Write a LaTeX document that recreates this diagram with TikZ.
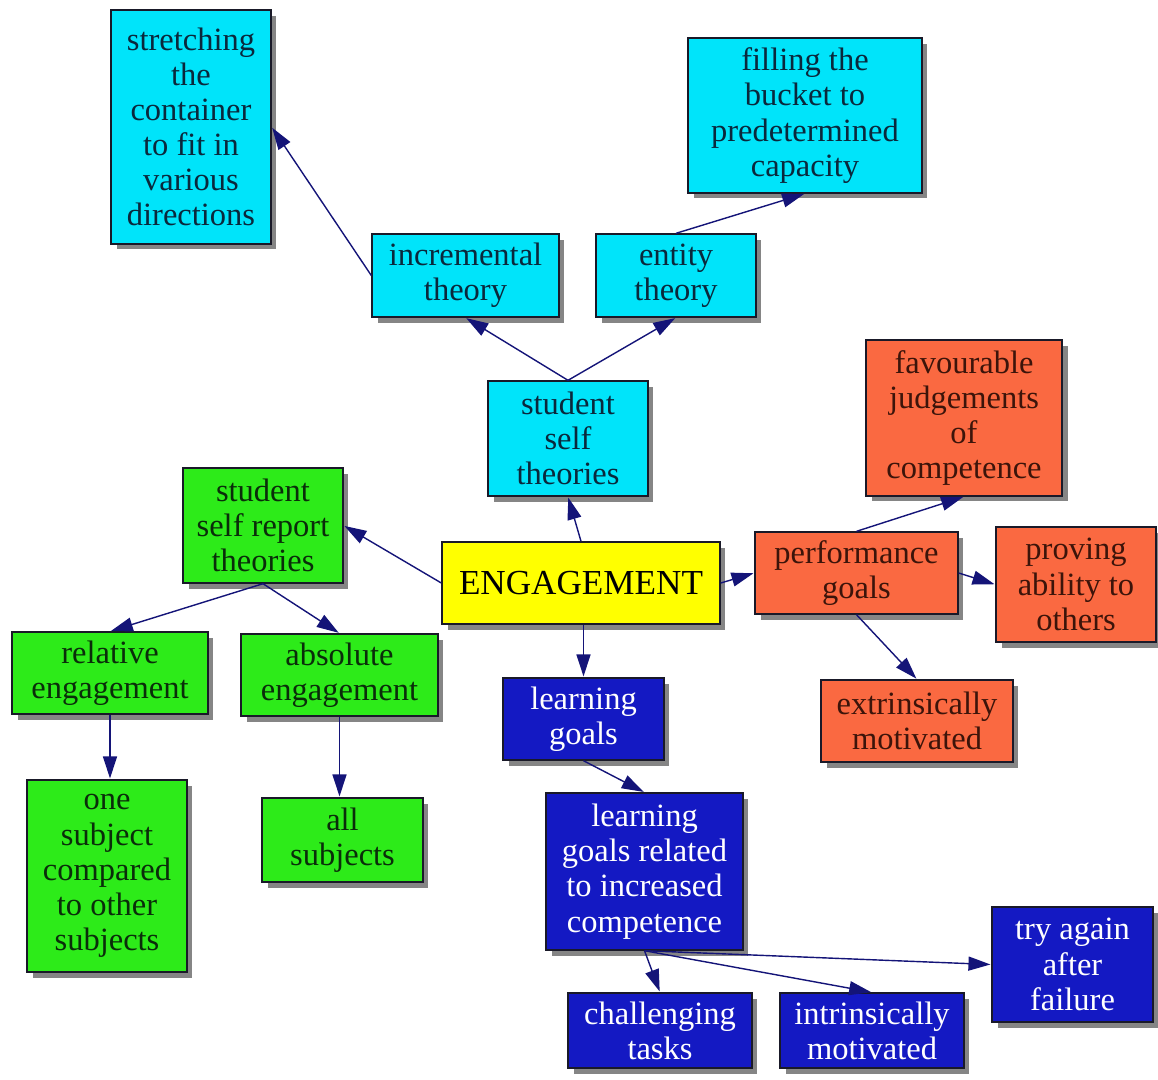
\documentclass[tikz,border=0pt]{standalone}
\usepackage{fontspec}
\setmainfont{Liberation Serif}
\usetikzlibrary{arrows.meta,shadows}

\definecolor{cyanfill}{RGB}{0,228,250}
\definecolor{cyantext}{RGB}{10,40,60}
\definecolor{yellowfill}{RGB}{255,255,0}
\definecolor{greenfill}{RGB}{45,235,25}
\definecolor{greentext}{RGB}{10,45,10}
\definecolor{orangefill}{RGB}{250,105,65}
\definecolor{orangetext}{RGB}{60,20,10}
\definecolor{bluefill}{RGB}{20,25,195}
\definecolor{navyline}{RGB}{20,20,120}
\definecolor{edgeline}{RGB}{25,25,40}

\tikzset{
  conceptbox/.style={draw=edgeline,line width=0.8pt,inner sep=0pt,align=center,
    font=\fontsize{18.5}{20}\selectfont,
    drop shadow={shadow xshift=0.11cm,shadow yshift=-0.11cm,fill=black!48,opacity=1}},
  theorybox/.style={conceptbox,fill=cyanfill,text=cyantext},
  mainbox/.style={conceptbox,fill=yellowfill,text=black,font=\fontsize{20}{22}\selectfont},
  reportbox/.style={conceptbox,fill=greenfill,text=greentext},
  perfbox/.style={conceptbox,fill=orangefill,text=orangetext},
  learnbox/.style={conceptbox,fill=bluefill,text=white},
  link/.style={draw=navyline,line width=0.8pt,
    -{Triangle[length=0.44cm,width=0.28cm]},shorten >=0.5pt}
}

\begin{document}
\begin{tikzpicture}[x=0.02cm,y=-0.02cm]
    \useasboundingbox (0,0) rectangle (1158,1079);

    \node[theorybox,minimum width=3.2cm,minimum height=4.68cm] (stretch) at (191,127)
        {stretching\\the\\container\\to fit in\\various\\directions};
    \node[theorybox,minimum width=4.68cm,minimum height=3.1cm] (filling) at (805,115.5)
        {filling the\\bucket to\\predetermined\\capacity};
    \node[theorybox,minimum width=3.74cm,minimum height=1.66cm] (incremental) at (465.5,275.5)
        {incremental\\theory};
    \node[theorybox,minimum width=3.2cm,minimum height=1.66cm] (entity) at (676,275.5)
        {entity\\theory};
    \node[theorybox,minimum width=3.2cm,minimum height=2.3cm] (selftheories) at (568,438.5)
        {student\\self\\theories};

    \node[mainbox,minimum width=5.56cm,minimum height=1.64cm] (engagement) at (581,583)
        {ENGAGEMENT};

    \node[reportbox,minimum width=3.2cm,minimum height=2.3cm] (selfreport) at (263,525.5)
        {student\\self report\\theories};
    \node[reportbox,minimum width=3.92cm,minimum height=1.64cm] (relative) at (110,673)
        {relative\\engagement};
    \node[reportbox,minimum width=3.94cm,minimum height=1.64cm] (absolute) at (339.5,675)
        {absolute\\engagement};
    \node[reportbox,minimum width=3.2cm,minimum height=3.84cm] (onesubject) at (107,876)
        {one\\subject\\compared\\to other\\subjects};
    \node[reportbox,minimum width=3.22cm,minimum height=1.68cm] (allsubjects) at (342.5,840)
        {all\\subjects};

    \node[perfbox,minimum width=4.06cm,minimum height=1.64cm] (performance) at (856.5,573)
        {performance\\goals};
    \node[perfbox,minimum width=3.92cm,minimum height=3.12cm] (favourable) at (964,418)
        {favourable\\judgements\\of\\competence};
    \node[perfbox,minimum width=3.2cm,minimum height=2.3cm] (proving) at (1076,584.5)
        {proving\\ability to\\others};
    \node[perfbox,minimum width=3.84cm,minimum height=1.64cm] (extrinsic) at (917,721)
        {extrinsically\\motivated};

    \node[learnbox,minimum width=3.22cm,minimum height=1.64cm] (learning) at (583.5,719)
        {learning\\goals};
    \node[learnbox,minimum width=3.94cm,minimum height=3.14cm] (competence) at (644.5,871.5)
        {learning\\goals related\\to increased\\competence};
    \node[learnbox,minimum width=3.68cm,minimum height=1.5cm] (challenging) at (660,1030.5)
        {challenging\\tasks};
    \node[learnbox,minimum width=3.68cm,minimum height=1.5cm] (intrinsic) at (872,1030.5)
        {intrinsically\\motivated};
    \node[learnbox,minimum width=3.22cm,minimum height=2.3cm] (tryagain) at (1072.5,964.5)
        {try again\\after\\failure};

    \draw[link] (incremental.west) -- (stretch.east);
    \draw[link] (entity.north) -- (filling.south);
    \draw[link] (selftheories.north) -- (incremental.south);
    \draw[link] (selftheories.north) -- (entity.south);
    \draw[link] (engagement.north) -- (selftheories.south);
    \draw[link] (engagement.west) -- (selfreport.east);
    \draw[link] (engagement.east) -- (performance.west);
    \draw[link] (learning.north |- engagement.south) -- (learning.north);
    \draw[link] (selfreport.south) -- (relative.north);
    \draw[link] (selfreport.south) -- (absolute.north);
    \draw[link] (relative.south) -- (relative.south |- onesubject.north);
    \draw[link] (absolute.south) -- (absolute.south |- allsubjects.north);
    \draw[link] (performance.north) -- (favourable.south);
    \draw[link] (performance.east) -- (proving.west);
    \draw[link] (performance.south) -- (extrinsic.north);
    \draw[link] (learning.south) -- (competence.north);
    \draw[link] (competence.south) -- (challenging.north);
    \draw[link] (competence.south) -- (intrinsic.north);
    \draw[link] (competence.south) -- (tryagain.west);
\end{tikzpicture}
\end{document}
